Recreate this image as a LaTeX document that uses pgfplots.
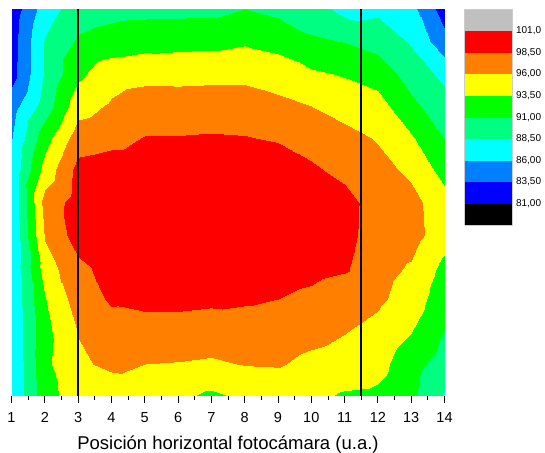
\documentclass[border=0pt]{standalone}
\usepackage{pgfplots}
\pgfplotsset{compat=1.18}
\usepackage{fontspec}
\setmainfont{Liberation Sans}

\begin{document}
\begin{tikzpicture}[x=1pt,y=1pt]
\useasboundingbox (0,0) rectangle (545,452);
\begin{axis}[
  at={(11.5pt,56.3pt)}, anchor=south west,
  scale only axis, width=433pt, height=386.4pt,
  xmin=1, xmax=14, ymin=0, ymax=12,
  axis x line*=bottom, axis y line=none,
  x axis line style={black, line width=0.8pt, -},
  xtick={1,...,14}, minor x tick num=1,
  tick align=outside, major tick length=7pt, minor tick length=4pt,
  tick style={black, line width=0.8pt},
  /pgf/number format/assume math mode=true,
  xticklabel style={font=\fontsize{14.5}{17}\selectfont, yshift=-6pt},
  xlabel={Posición horizontal fotocámara (u.a.)},
  xlabel style={font=\fontsize{18.5}{22}\selectfont, at={(axis description cs:0.5,0)}, anchor=base, yshift=-53.3pt},
  colormap={originbands}{rgb255=(0,0,0) rgb255=(0,0,255) rgb255=(0,128,255) rgb255=(0,255,255) rgb255=(0,255,128) rgb255=(0,255,0) rgb255=(255,255,0) rgb255=(255,128,0) rgb255=(255,0,0) rgb255=(192,192,192)},
  colormap access=piecewise constant,
  point meta min=78.5, point meta max=103.5,
  colorbar,
  colorbar style={
    at={(parent axis.north east)}, anchor=north west, xshift=11.5pt,
    width=48pt, height=216pt,
    ytick={81,83.5,86,88.5,91,93.5,96,98.5,101},
    yticklabels={{81,00},{83,50},{86,00},{88,50},{91,00},{93,50},{96,00},{98,50},{101,0}},
    yticklabel style={font=\fontsize{10}{12}\selectfont},
    major tick length=0pt,
    axis line style={gray!40, line width=0.4pt},
  },
]
% measured grid: x = camera position, y = vertical row (0 bottom .. 12 top)
\addplot[surf, shader=interp, mesh/cols=14, point meta=explicit]
  table[meta=z, row sep=\\] {
x y z\\
1 0 86.2\\ 2 0 92.8\\ 3 0 94.5\\ 4 0 94.5\\ 5 0 94.8\\ 6 0 94.0\\ 7 0 93.0\\ 8 0 94.0\\ 9 0 94.2\\ 10 0 94.0\\ 11 0 93.2\\ 12 0 93.0\\ 13 0 91.6\\ 14 0 88.2\\
1 1 86.2\\ 2 1 93.0\\ 3 1 95.6\\ 4 1 96.5\\ 5 1 96.0\\ 6 1 95.9\\ 7 1 95.7\\ 8 1 96.1\\ 9 1 96.2\\ 10 1 95.4\\ 11 1 95.0\\ 12 1 94.3\\ 13 1 92.0\\ 14 1 89.8\\
1 2 86.5\\ 2 2 92.8\\ 3 2 96.1\\ 4 2 97.5\\ 5 2 97.4\\ 6 2 97.4\\ 7 2 97.2\\ 8 2 97.4\\ 9 2 97.3\\ 10 2 96.8\\ 11 2 96.1\\ 12 2 95.3\\ 13 2 93.6\\ 14 2 90.9\\
1 3 86.5\\ 2 3 93.4\\ 3 3 97.2\\ 4 3 98.8\\ 5 3 99.2\\ 6 3 99.2\\ 7 3 99.0\\ 8 3 98.8\\ 9 3 98.5\\ 10 3 98.0\\ 11 3 97.2\\ 12 3 96.4\\ 13 3 95.0\\ 14 3 91.8\\
1 4 86.5\\ 2 4 94.8\\ 3 4 98.0\\ 4 4 99.3\\ 5 4 99.8\\ 6 4 99.8\\ 7 4 99.9\\ 8 4 99.8\\ 9 4 99.5\\ 10 4 99.2\\ 11 4 98.8\\ 12 4 96.8\\ 13 4 95.8\\ 14 4 92.8\\
1 5 86.3\\ 2 5 96.3\\ 3 5 99.6\\ 4 5 99.9\\ 5 5 100.1\\ 6 5 100.2\\ 7 5 100.2\\ 8 5 100.2\\ 9 5 99.9\\ 10 5 99.4\\ 11 5 99.3\\ 12 5 97.2\\ 13 5 97.0\\ 14 5 94.5\\
1 6 86.5\\ 2 6 97.0\\ 3 6 99.6\\ 4 6 100.0\\ 5 6 100.2\\ 6 6 100.3\\ 7 6 100.3\\ 8 6 100.3\\ 9 6 100.1\\ 10 6 99.6\\ 11 6 99.4\\ 12 6 97.3\\ 13 6 96.8\\ 14 6 94.5\\
1 7 86.6\\ 2 7 94.5\\ 3 7 99.3\\ 4 7 99.7\\ 5 7 99.8\\ 6 7 100.0\\ 7 7 100.0\\ 8 7 100.0\\ 9 7 99.7\\ 10 7 98.9\\ 11 7 97.8\\ 12 7 96.8\\ 13 7 95.5\\ 14 7 92.5\\
1 8 86.0\\ 2 8 92.5\\ 3 8 97.3\\ 4 8 97.8\\ 5 8 98.6\\ 6 8 98.6\\ 7 8 98.7\\ 8 8 98.6\\ 9 8 98.3\\ 10 8 97.5\\ 11 8 96.8\\ 12 8 95.8\\ 13 8 93.8\\ 14 8 90.9\\
1 9 85.0\\ 2 9 89.7\\ 3 9 95.0\\ 4 9 96.3\\ 5 9 97.2\\ 6 9 97.3\\ 7 9 97.4\\ 8 9 97.4\\ 9 9 96.8\\ 10 9 96.0\\ 11 9 95.0\\ 12 9 94.5\\ 13 9 91.6\\ 14 9 89.5\\
1 10 82.6\\ 2 10 88.8\\ 3 10 93.0\\ 4 10 95.0\\ 5 10 95.3\\ 6 10 95.2\\ 7 10 95.3\\ 8 10 95.3\\ 9 10 94.6\\ 10 10 93.9\\ 11 10 93.3\\ 12 10 92.4\\ 13 10 90.0\\ 14 10 87.8\\
1 11 82.5\\ 2 11 88.7\\ 3 11 91.3\\ 4 11 92.0\\ 5 11 92.5\\ 6 11 92.7\\ 7 11 92.8\\ 8 11 93.2\\ 9 11 92.8\\ 10 11 91.3\\ 11 11 90.9\\ 12 11 90.0\\ 13 11 88.2\\ 14 11 84.2\\
1 12 82.0\\ 2 12 87.3\\ 3 12 89.8\\ 4 12 90.2\\ 5 12 90.3\\ 6 12 90.3\\ 7 12 90.3\\ 8 12 91.0\\ 9 12 90.3\\ 10 12 89.8\\ 11 12 87.6\\ 12 12 88.0\\ 13 12 86.8\\ 14 12 82.2\\
};
% limits of the camera field
\addplot[black, line width=1.8pt] coordinates {(3,0) (3,12)};
\addplot[black, line width=1.8pt] coordinates {(11.5,0) (11.5,12)};
\end{axis}
\end{tikzpicture}
\end{document}
